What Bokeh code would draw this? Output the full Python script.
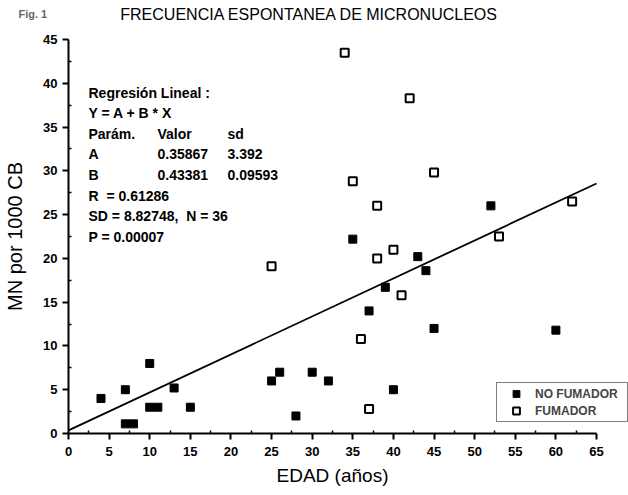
from bokeh.plotting import figure
from bokeh.models import Range1d, Label, Legend, LegendItem, FixedTicker, LinearAxis
from bokeh.embed import file_html
from bokeh.resources import INLINE

# ---- data ----
no_fum_edad = [4, 7, 7, 8, 10, 10, 11, 13, 15, 25, 26, 28, 30, 32, 35, 37, 39, 40, 43, 44, 45, 52, 60]
no_fum_mn = [4, 5, 1.1, 1.1, 8, 3, 3, 5.2, 3, 6, 7, 2, 7, 6, 22.2, 14, 16.7, 5, 20.2, 18.6, 12, 26, 11.8]
fum_edad = [25, 34, 35, 36, 37, 38, 38, 40, 41, 42, 45, 53, 62]
fum_mn = [19.1, 43.5, 28.8, 10.8, 2.8, 26, 20, 21, 15.8, 38.3, 29.8, 22.5, 26.5]
A = 0.35867
B = 0.43381
fit_x = [0, 65]
fit_y = [A + B * x for x in fit_x]
x_ticks = list(range(0, 66, 5))
y_ticks = list(range(0, 46, 5))
NB = "\u00a0"
stats_lines = [
    ("Regresión Lineal :", "", ""),
    ("Y = A + B * X", "", ""),
    ("Parám.", "Valor", "sd"),
    ("A", "0.35867", "3.392"),
    ("B", "0.43381", "0.09593"),
    ("R" + NB + NB + "= 0.61286", "", ""),
    ("SD = 8.82748," + NB + NB + "N = 36", "", ""),
    ("P = 0.00007", "", ""),
]

FONT = "Liberation Sans"
W, H = 628, 495
# frame covers the whole canvas; data area: x 0..65 -> px 68..596, y 0..45 -> px 433..39
L, R, T, BOT = 68, 596, 39, 433
ppx = (R - L) / 65.0
ppy = (BOT - T) / 45.0
xr = Range1d(-L / ppx, 65 + (W - R) / ppx)
yr = Range1d(-(H - BOT) / ppy, 45 + T / ppy)

p = figure(width=W, height=H, output_backend="svg", toolbar_location=None,
           x_range=xr, y_range=yr, x_axis_type=None, y_axis_type=None,
           min_border_left=0, min_border_right=0, min_border_top=0, min_border_bottom=0)
p.title.visible = False
p.outline_line_color = None
p.background_fill_color = "white"
p.border_fill_color = "white"

xaxis = LinearAxis(fixed_location=0, bounds=(0, 65))
yaxis = LinearAxis(fixed_location=0, bounds=(0, 45))
for ax, ticks in ((xaxis, x_ticks), (yaxis, y_ticks)):
    ax.ticker = FixedTicker(ticks=ticks, minor_ticks=[t + 2.5 for t in ticks[:-1]])
    ax.axis_line_width = 2
    ax.major_tick_line_width = 2
    ax.minor_tick_line_width = 1.5
    ax.major_tick_out = 6
    ax.major_tick_in = 0
    ax.minor_tick_out = 0
    ax.minor_tick_in = 3
    ax.major_label_text_font = FONT
    ax.major_label_text_font_style = "bold"
    ax.major_label_text_font_size = "13px"
    ax.major_label_text_color = "black"
    ax.axis_label_text_font = FONT
    ax.axis_label_text_font_style = "normal"
    ax.axis_label_text_color = "black"

xaxis.axis_label = "EDAD (años)"
xaxis.axis_label_text_font_size = "19px"
yaxis.axis_label = "MN por 1000 CB"
yaxis.axis_label_text_font_size = "20px"
xaxis.major_label_standoff = 7
xaxis.axis_label_standoff = 6
yaxis.major_label_standoff = 5
yaxis.axis_label_standoff = 14
p.add_layout(xaxis, "below")
p.add_layout(yaxis, "left")

p.line(fit_x, fit_y, line_color="black", line_width=1.8)

r_no = p.scatter(no_fum_edad, no_fum_mn, marker="square", size=8,
                 fill_color="black", line_color="black", line_width=1)
r_fu = p.scatter(fum_edad, fum_mn, marker="square", size=8,
                 fill_color="white", line_color="black", line_width=2)

legend = Legend(items=[LegendItem(label="NO FUMADOR", renderers=[r_no]),
                       LegendItem(label="FUMADOR", renderers=[r_fu])],
                location=(496, H - 422))
legend.border_line_color = "black"
legend.border_line_width = 1.5
legend.background_fill_color = "white"
legend.background_fill_alpha = 1
legend.label_text_font = FONT
legend.label_text_font_size = "12px"
legend.label_text_font_style = "bold"
legend.label_height = 17
legend.glyph_height = 17
legend.glyph_width = 34
legend.label_width = 90
legend.spacing = 0
legend.padding = 2
legend.margin = 0
legend.label_standoff = 2
p.add_layout(legend, "center")

# statistics block (screen units, from canvas bottom-left)
col_x = [88, 157, 227]
for i, row in enumerate(stats_lines):
    yc = H - (92 + i * 20.6)
    for cx, txt in zip(col_x, row):
        if txt:
            p.add_layout(Label(x=cx, y=yc, x_units="screen", y_units="screen", text=txt,
                               text_font=FONT, text_font_size="14px", text_font_style="bold",
                               text_baseline="middle", text_align="left", text_color="black"))

p.add_layout(Label(x=309, y=H - 14, x_units="screen", y_units="screen",
                   text="FRECUENCIA ESPONTANEA DE MICRONUCLEOS",
                   text_font=FONT, text_font_size="16px", text_baseline="middle",
                   text_align="center", text_color="black"))
p.add_layout(Label(x=18, y=H - 13, x_units="screen", y_units="screen", text="Fig. 1",
                   text_font=FONT, text_font_size="11px", text_font_style="bold",
                   text_baseline="middle", text_align="left", text_color="#666666"))

open("out.html", "w").write(file_html(p, INLINE))
